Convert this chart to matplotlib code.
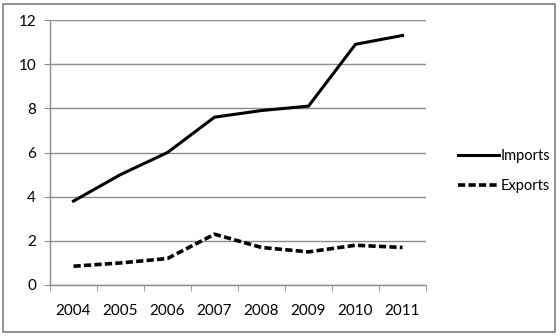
import matplotlib.pyplot as plt
from matplotlib.patches import Rectangle

years = ["2004", "2005", "2006", "2007", "2008", "2009", "2010", "2011"]
imports = [3.8, 5.0, 6.0, 7.6, 7.9, 8.1, 10.9, 11.3]
exports = [0.85, 1.0, 1.2, 2.3, 1.7, 1.5, 1.8, 1.7]

plt.rcParams["font.family"] = ["Lato", "DejaVu Sans"]

fig = plt.figure(figsize=(5.6, 3.36), dpi=100)
ax = fig.add_axes([50 / 560, 1 - 285 / 336, 376 / 560, 265 / 336])

x = list(range(len(years)))
ax.plot(x, imports, color="black", lw=2.2, label="Imports")
ax.plot(x, exports, color="black", lw=2.6, ls=(0, (2.0, 0.9)), label="Exports")

ax.set_xlim(-0.5, len(years) - 0.5)
ax.set_ylim(0, 12)
ax.set_yticks(range(0, 13, 2))
ax.set_xticks(x)
ax.set_xticklabels(years)
ax.set_xticks([i - 0.5 for i in range(len(years) + 1)], minor=True)

ax.grid(axis="y", color="#8c8c8c", lw=1)
ax.set_axisbelow(True)
for side in ("top", "right"):
    ax.spines[side].set_visible(False)
for side in ("left", "bottom"):
    ax.spines[side].set_color("#8c8c8c")
    ax.spines[side].set_linewidth(1)

ax.tick_params(axis="x", which="major", length=0, pad=14, labelsize=11)
ax.tick_params(axis="x", which="minor", length=4, color="#8c8c8c", direction="out")
ax.tick_params(axis="y", length=4, color="#8c8c8c", pad=6, labelsize=11)

leg = ax.legend(loc="center left", bbox_to_anchor=(1.05, 0.43), frameon=False,
                fontsize=10.5, handlelength=2.8, handletextpad=0.15, labelspacing=1.1)

# outer frame around the whole chart
fig.patches.append(Rectangle((3 / 560, 4 / 336), 552 / 560, 328 / 336,
                             transform=fig.transFigure, fill=False,
                             edgecolor="#7f7f7f", lw=1.2))

fig.savefig("out.png", dpi=100, facecolor="white")
